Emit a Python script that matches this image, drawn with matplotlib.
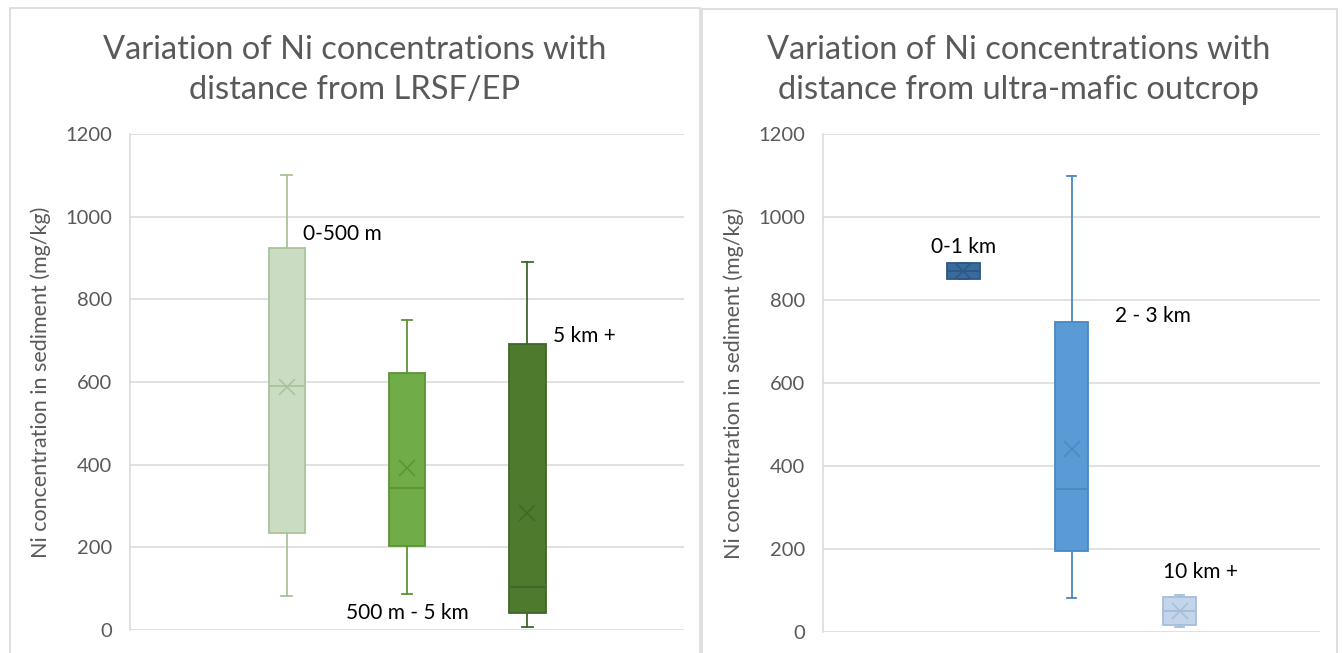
import matplotlib.pyplot as plt
from matplotlib.patches import Rectangle

plt.rcParams['font.family'] = ['Lato', 'DejaVu Sans']

# box statistics for each group (mg/kg)
lrsf_labels = ['0-500 m', '500 m - 5 km', '5 km +']
lrsf_whislo = [82, 88, 8]
lrsf_q1 = [235, 203, 40]
lrsf_med = [591, 344, 104]
lrsf_q3 = [923, 621, 692]
lrsf_whishi = [1100, 751, 890]
lrsf_mean = [587, 391, 284]

ultra_labels = ['0-1 km', '2 - 3 km', '10 km +']
ultra_whislo = [851, 83, 13]
ultra_q1 = [851, 195, 18]
ultra_med = [870, 345, 50]
ultra_q3 = [890, 746, 85]
ultra_whishi = [890, 1100, 90]
ultra_mean = [870, 442, 50]

lrsf_fill = ['#CADDC3', '#70AD47', '#4E7A2E']
lrsf_edge = ['#A8C39A', '#5A9438', '#40662A']
ultra_fill = ['#3A6B9D', '#5B9BD5', '#C3D5EA']
ultra_edge = ['#2D5884', '#4A88C2', '#A6BDD9']

fig = plt.figure(figsize=(13.43, 6.53), dpi=100)
W, H = 1343, 653

# chart frames
fig.patches.append(Rectangle((10 / W, -0.1), 690 / W, 1.1 - 8 / H, transform=fig.transFigure,
                             fill=False, ec='#D9D9D9', lw=1.2))
fig.patches.append(Rectangle((702 / W, -0.1), 635 / W, 1.1 - 9 / H, transform=fig.transFigure,
                             fill=False, ec='#D9D9D9', lw=1.2))


def draw_panel(ax, labels, whislo, q1, med, q3, whishi, mean, fills, edges):
    stats = []
    for i in range(len(labels)):
        stats.append(dict(label=labels[i], whislo=whislo[i], q1=q1[i], med=med[i],
                          q3=q3[i], whishi=whishi[i], mean=mean[i], fliers=[]))
    for i, st in enumerate(stats):
        ec = edges[i]
        ax.bxp([st], positions=[i - 1], widths=0.3, capwidths=0.09, patch_artist=True,
               showmeans=True, manage_ticks=False,
               boxprops=dict(facecolor=fills[i], edgecolor=ec, lw=1.3),
               medianprops=dict(color=ec, lw=1.3),
               whiskerprops=dict(color=ec, lw=1.3),
               capprops=dict(color=ec, lw=1.3),
               meanprops=dict(marker='x', markeredgecolor=ec, markersize=11, mew=1.1))
    ax.set_ylim(0, 1200)
    ax.set_xlim(-2.3, 2.3)
    ax.set_yticks(range(0, 1201, 200))
    ax.set_xticks([])
    ax.grid(axis='y', color='#D9D9D9', lw=1.1)
    ax.set_axisbelow(True)
    for s in ['top', 'right', 'bottom']:
        ax.spines[s].set_visible(False)
    ax.spines['left'].set_color('#D9D9D9')
    ax.spines['left'].set_linewidth(1.1)
    ax.tick_params(axis='y', length=0, pad=13, labelsize=14.5, labelcolor='#595959')
    ax.set_ylabel('Ni concentration in sediment (mg/kg)', fontsize=15.5, color='#595959', labelpad=10)


ax1 = fig.add_axes([130 / W, 1 - 630 / H, 554 / W, 496 / H])
draw_panel(ax1, lrsf_labels, lrsf_whislo, lrsf_q1, lrsf_med, lrsf_q3, lrsf_whishi, lrsf_mean,
           lrsf_fill, lrsf_edge)
ax1.text(-0.86, 958, lrsf_labels[0], fontsize=15, ha='left', va='center')
ax1.text(0, 41, lrsf_labels[1], fontsize=15, ha='center', va='center')
ax1.text(1.21, 711, lrsf_labels[2], fontsize=15, ha='left', va='center')

ax2 = fig.add_axes([823 / W, 1 - 632 / H, 497 / W, 498 / H])
draw_panel(ax2, ultra_labels, ultra_whislo, ultra_q1, ultra_med, ultra_q3, ultra_whishi, ultra_mean,
           ultra_fill, ultra_edge)
ax2.text(-1.0, 928, ultra_labels[0], fontsize=15, ha='center', va='center')
ax2.text(0.40, 761, ultra_labels[1], fontsize=15, ha='left', va='center')
ax2.text(0.85, 145, ultra_labels[2], fontsize=15, ha='left', va='center')

fig.text(355 / W, 1 - 70 / H, 'Variation of Ni concentrations with\ndistance from LRSF/EP',
         ha='center', va='center', fontsize=23.5, color='#595959', linespacing=1.45)
fig.text(1019 / W, 1 - 70 / H, 'Variation of Ni concentrations with\ndistance from ultra-mafic outcrop',
         ha='center', va='center', fontsize=23.5, color='#595959', linespacing=1.45)

fig.savefig('out.png', dpi=100)
